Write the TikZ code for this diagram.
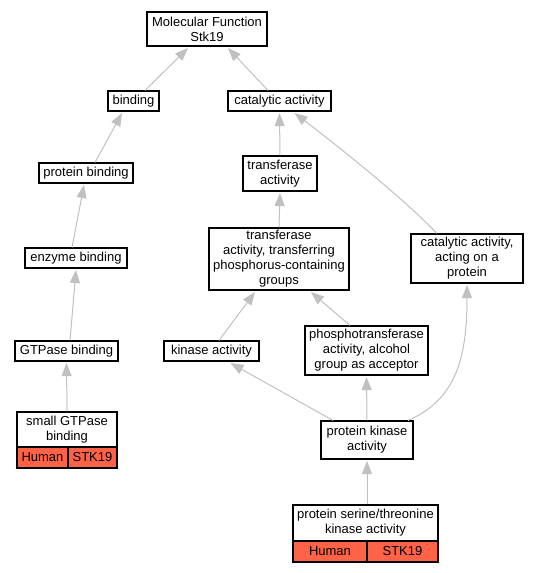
\documentclass[tikz,border=0pt]{standalone}
\usepackage{fontspec}
\setmainfont{Liberation Sans}
\usetikzlibrary{arrows.meta}
\definecolor{edgegray}{HTML}{C0C0C0}
\definecolor{tomatored}{HTML}{FF6347}
\tikzset{
  gobox/.style={draw=black, line width=1.1pt, rectangle, inner sep=0pt, align=center,
    font=\fontsize{13}{15}\selectfont},
  cell/.style={gobox, fill=tomatored},
  edge/.style={draw=edgegray, line width=1pt, -{Triangle[length=13pt,width=10pt]}, edgegray}
}
\begin{document}
\begin{tikzpicture}[x=1pt,y=-1pt]
\useasboundingbox (0,0) rectangle (535,573);
% nodes
\node[gobox, minimum width=120pt, minimum height=34pt] (mf) at (207,29) {Molecular Function\\Stk19};
\node[gobox, minimum width=51pt, minimum height=20pt] (bind) at (133.5,101) {binding};
\node[gobox, minimum width=103pt, minimum height=20pt] (cat) at (279.5,101) {catalytic activity};
\node[gobox, minimum width=94pt, minimum height=20pt] (pb) at (86,173) {protein binding};
\node[gobox, minimum width=74pt, minimum height=35pt] (tra) at (280,173.5) {transferase\\activity};
\node[gobox, minimum width=102pt, minimum height=20pt] (eb) at (76,258) {enzyme binding};
\node[gobox, minimum width=140pt, minimum height=62pt] (trp) at (279,259) {transferase\\activity, transferring\\phosphorus-containing\\groups};
\node[gobox, minimum width=112pt, minimum height=49pt] (cap) at (467,258.5) {catalytic activity,\\acting on a\\protein};
\node[gobox, minimum width=103pt, minimum height=20pt] (gb) at (66.5,351) {GTPase binding};
\node[gobox, minimum width=95pt, minimum height=20pt] (ka) at (211.5,351) {kinase activity};
\node[gobox, minimum width=123pt, minimum height=49pt] (pt) at (366.5,350.5) {phosphotransferase\\activity, alcohol\\group as acceptor};
\node[gobox, minimum width=100pt, minimum height=35pt] (sgb) at (67,429.5) {small GTPase\\binding};
\node[cell, minimum width=51pt, minimum height=21pt] (sgbh) at (42.5,457.5) {Human};
\node[cell, minimum width=49pt, minimum height=21pt] (sgbs) at (92.5,457.5) {STK19};
\node[gobox, minimum width=92pt, minimum height=38pt] (pka) at (367,440) {protein kinase\\activity};
\node[gobox, minimum width=145pt, minimum height=36pt] (sta) at (365.5,523) {protein serine/threonine\\kinase activity};
\node[cell, minimum width=74pt, minimum height=21pt] (stah) at (330,551.5) {Human};
\node[cell, minimum width=71pt, minimum height=21pt] (stas) at (402.5,551.5) {STK19};
% edges
\draw[edge] ([xshift=11.5pt]bind.north) -- ([xshift=-19pt,yshift=-1.5pt]mf.south);
\draw[edge] ([xshift=-11.5pt]cat.north) -- ([xshift=21pt,yshift=-1.5pt]mf.south);
\draw[edge] ([xshift=9pt]pb.north) -- ([xshift=-11.5pt,yshift=-1.5pt]bind.south);
\draw[edge] (tra.north) -- ([yshift=-1.5pt]cat.south);
\draw[edge] ([xshift=-30pt]cap.north) .. controls (400,195) and (330,140) .. ([xshift=15pt,yshift=-1.5pt]cat.south);
\draw[edge] ([xshift=-4pt]eb.north) -- ([xshift=-2pt,yshift=-1.5pt]pb.south);
\draw[edge] (trp.north) -- ([yshift=-1.5pt]tra.south);
\draw[edge] ([xshift=3.5pt]gb.north) -- ([yshift=-1.5pt]eb.south);
\draw[edge] (sgb.north) -- ([yshift=-1.5pt]gb.south);
\draw[edge] ([xshift=7.5pt]ka.north) -- ([xshift=-24pt,yshift=-1.5pt]trp.south);
\draw[edge] ([xshift=-16.5pt]pt.north) -- ([xshift=32pt,yshift=-1.5pt]trp.south);
\draw[edge] ([xshift=-34pt]pka.north) -- ([xshift=19pt,yshift=-1.5pt]ka.south);
\draw[edge] (pka.north) -- ([yshift=-1.5pt]pt.south);
\draw[edge] ([xshift=41pt]pka.north) .. controls (455,400) and (467,360) .. ([yshift=-1.5pt]cap.south);
\draw[edge] ([xshift=1.5pt]sta.north) -- ([yshift=-1.5pt]pka.south);
\end{tikzpicture}
\end{document}
